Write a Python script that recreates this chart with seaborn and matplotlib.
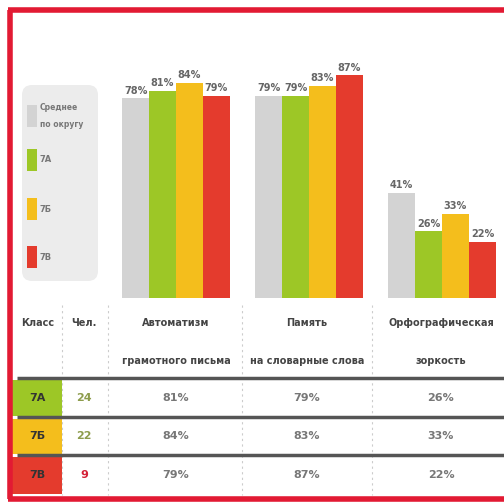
import matplotlib
matplotlib.use("Agg")
import matplotlib.pyplot as plt
from matplotlib.patches import Rectangle, FancyBboxPatch
import pandas as pd
import seaborn as sns

# data
skills = ['Автоматизм\nграмотного письма', 'Память\nна словарные слова', 'Орфографическая\nзоркость']
groups = ['Среднее\nпо округу', '7А', '7Б', '7В']
avg_vals = [78, 79, 41]
a_vals = [81, 79, 26]
b_vals = [84, 83, 33]
v_vals = [79, 87, 22]
classes = ['7А', '7Б', '7В']
people = [24, 22, 9]

colors = ['#d3d3d3', '#9dc726', '#f4be1c', '#e43b2d']
frame_red = '#e21a33'
narrow = ['Liberation Sans Narrow', 'DejaVu Sans']

rows = []
for name, vals in zip(groups, [avg_vals, a_vals, b_vals, v_vals]):
    for s, v in zip(skills, vals):
        rows.append({'skill': s, 'group': name, 'value': v})
df = pd.DataFrame(rows)

sns.set_style('white')
plt.rcParams['font.family'] = narrow

W = 504
fig = plt.figure(figsize=(5.04, 5.04), dpi=100)

# overlay in pixel coords (y down) for frame, legend and table
bg = fig.add_axes([0, 0, 1, 1])
bg.set_xlim(0, W)
bg.set_ylim(W, 0)
bg.axis('off')

# red frame, open on the right side
bg.plot([10, 10], [10, 499], color=frame_red, lw=4, solid_capstyle='butt')
bg.plot([8, W], [10, 10], color=frame_red, lw=4, solid_capstyle='butt')
bg.plot([8, W], [499, 499], color=frame_red, lw=4, solid_capstyle='butt')

# legend box
bg.add_patch(FancyBboxPatch((22, 85), 76, 196, boxstyle='round,pad=0,rounding_size=10',
                            fc='#ececec', ec='none'))
leg_y = [116, 160, 209, 257]
for g, c, y in zip(groups, colors, leg_y):
    bg.add_patch(Rectangle((27, y - 11), 10, 22, fc=c, ec='none'))
    bg.text(40, y, g, fontsize=5.5 if '\n' in g else 6, color='#777', va='center',
            ha='left', fontweight='bold', linespacing=2.2)

# bar chart
ax = fig.add_axes([109.5 / W, (W - 298) / W, (W - 109.5) / W, 256 / W])
sns.barplot(data=df, x='skill', y='value', hue='group', palette=colors,
            width=0.81, saturation=1, linewidth=0, ax=ax, legend=False)
ax.set_xlim(-0.5, (W - 109.5) / 133 - 0.5)
ax.set_ylim(0, 100)
ax.axis('off')
for cont in ax.containers:
    ax.bar_label(cont, fmt='%d%%', padding=2, fontsize=7, color='#666',
                 fontweight='bold', family=narrow)

# table
centers = [176, 307, 441]
bg.text(38, 323, 'Класс', fontsize=7, ha='center', va='center', color='#444', fontweight='bold')
bg.text(84, 323, 'Чел.', fontsize=7, ha='center', va='center', color='#444', fontweight='bold')
for s, cx in zip(skills, centers):
    top, bottom = s.split('\n')
    bg.text(cx, 323, top, fontsize=7, ha='center', va='center', color='#444', fontweight='bold')
    bg.text(cx, 361, bottom, fontsize=7, ha='center', va='center', color='#444', fontweight='bold')

for x in [62, 108, 242, 372]:
    bg.plot([x, x], [305, 495], color='#cccccc', lw=0.8, ls=(0, (2, 3)))

for y in [378, 417, 455]:
    bg.plot([17, W], [y, y], color='#555555', lw=2.5, solid_capstyle='butt')

row_y = [398, 436, 475]
cell_top = [380, 419, 457]
cell_h = [36, 35, 37]
people_colors = ['#8d9c4c', '#8d9c4c', '#d42036']
all_vals = list(zip(a_vals, b_vals, v_vals))
for i, (cl, n) in enumerate(zip(classes, people)):
    bg.add_patch(Rectangle((12, cell_top[i]), 50, cell_h[i], fc=colors[i + 1], ec='none'))
    bg.text(37, row_y[i], cl, fontsize=8, ha='center', va='center', color='#333', fontweight='bold')
    bg.text(84, row_y[i], str(n), fontsize=8, ha='center', va='center',
            color=people_colors[i], fontweight='bold')
    for j, cx in enumerate(centers):
        bg.text(cx, row_y[i], f'{all_vals[j][i]}%', fontsize=8, ha='center', va='center',
                color='#777', fontweight='bold')

fig.savefig('out.png', dpi=100)
